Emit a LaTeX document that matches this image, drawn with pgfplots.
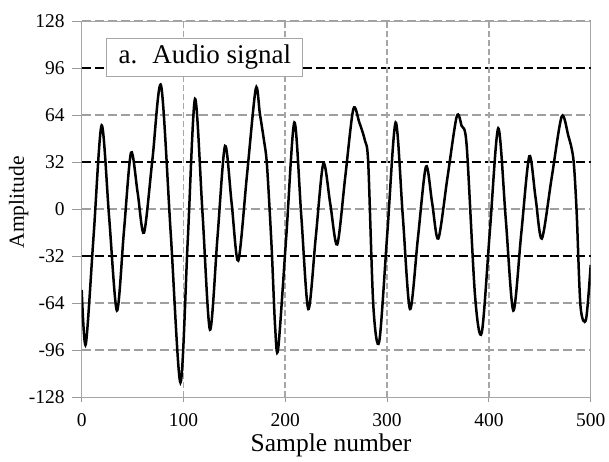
\documentclass[border=0pt]{standalone}
\usepackage{fontspec}
\setmainfont{Liberation Serif}
\usepackage{pgfplots}
\pgfplotsset{compat=1.18}

\begin{document}
\begin{tikzpicture}
\begin{axis}[
    name=ax,
    scale only axis,
    width=254.5pt,
    height=188.15pt,
    xmin=0, xmax=500,
    ymin=-128, ymax=128,
    xtick={0,100,200,300,400,500},
    xticklabels={0,100,200,300,400,500},
    ytick={-128,-96,-64,0,64,128},
    yticklabels={-128,-96,-64,0,64,128},
    extra y ticks={-32,32,96},
    extra y tick labels={-32,32,96},
    extra y tick style={major grid style={black, line width=0.8pt, dash pattern=on 4.5pt off 2pt}},
    /pgf/number format/assume math mode=true,
    axis line style={gray!70},
    tick style={gray!80, line width=0.5pt},
    xtick pos=bottom, ytick pos=left,
    ytick align=outside, xtick align=center,
    major tick length=5pt,
    grid=major,
    major grid style={gray!75, line width=0.8pt, dash pattern=on 4.5pt off 2pt},
    xmajorgrids=false,
    ticklabel style={font=\fontsize{9.75}{11}\selectfont},
    xticklabel style={yshift=-2pt},
    xlabel={Sample number},
    ylabel={Amplitude},
    xlabel style={at={(axis description cs:0.49,-0.1451)}, anchor=base, font=\fontsize{12.75}{14}\selectfont},
    ylabel style={at={(axis description cs:-0.0907,0.518)}, anchor=south, font=\fontsize{10.75}{12}\selectfont},
]
% vertical grid lines (lighter, finer dashes)
\addplot[gray!70, line width=0.8pt, dash pattern=on 3pt off 1.5pt, forget plot] coordinates {(100,-128) (100,128)};
\addplot[gray!70, line width=0.8pt, dash pattern=on 3pt off 1.5pt, forget plot] coordinates {(200,-128) (200,128)};
\addplot[gray!70, line width=0.8pt, dash pattern=on 3pt off 1.5pt, forget plot] coordinates {(300,-128) (300,128)};
\addplot[gray!70, line width=0.8pt, dash pattern=on 3pt off 1.5pt, forget plot] coordinates {(400,-128) (400,128)};

\addplot[black, line width=1.25pt, smooth] coordinates {
 (0,-55) (4,-92) (11.8,-17) (19.6,57) (27,-6) (34.6,-69) (41.5,-15) (48.5,38.5)
 (55,11) (61.2,-16) (69.5,34) (78,84) (87.5,-17) (97,-118) (104.2,-21) (111.3,75)
 (118.7,-3) (126,-82) (133.4,-19) (140.8,43) (147.3,4) (153.8,-35) (162.4,23.5)
 (171,82) (175,65) (179,47) (182,30) (186.5,-25) (190,-80) (193,-95) (201,-18)
 (208.9,59) (215.7,-4.5) (222.6,-68) (230,-18.5) (237.4,31) (244.2,3.5) (251,-24)
 (258.9,22) (266.8,68) (272.7,59) (278.3,46.5) (281.5,31) (286.5,-66) (292.3,-90)
 (300.3,-15.5) (308.4,59) (315.4,-4.5) (322.5,-68) (330.3,-19.5) (338.2,29)
 (344.2,4.5) (350.3,-20) (359.3,21.5) (368.4,63) (373.3,56.5) (378.2,43)
 (386.4,-59) (393,-84) (401,-14.5) (409.2,55) (416.6,-7) (424,-69) (431.8,-16.5)
 (439.7,36) (445.8,8) (452,-20) (461.7,21.5) (471.5,63) (478,50) (483,34)
 (486.2,-2) (490,-66) (495.4,-75) (500,-38)
};

\node[draw=gray!70, fill=white, line width=0.6pt, minimum width=98pt, minimum height=19pt,
      inner sep=0pt, font=\fontsize{13.5}{15}\selectfont] at (axis cs:121,103.2)
      {a.\hspace{0.55em}Audio signal};
\end{axis}
\pgfresetboundingbox
\path ([shift={(-40.85pt,-31.85pt)}]ax.south west) rectangle ([shift={(9.15pt,10.5pt)}]ax.north east);
\end{tikzpicture}
\end{document}
